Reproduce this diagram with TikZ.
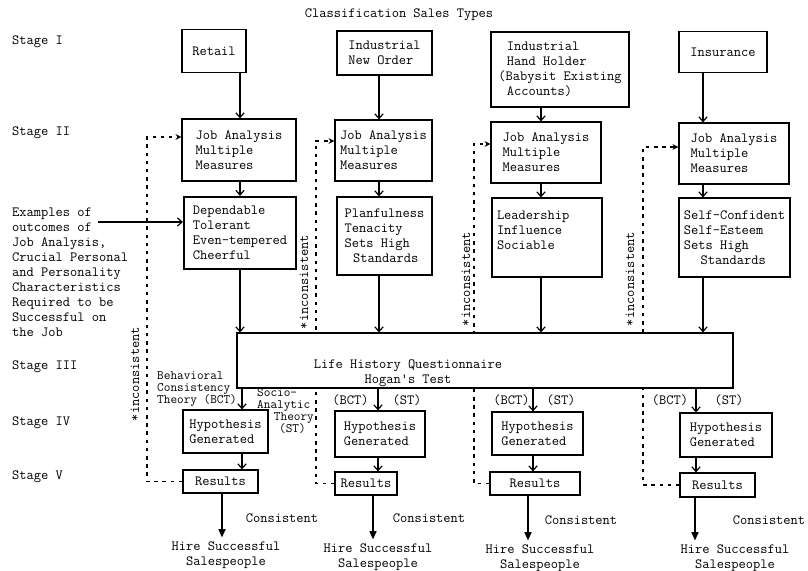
\documentclass[tikz,border=0pt]{standalone}
\usepackage{fontspec}
\usetikzlibrary{arrows.meta,backgrounds}

\newcommand\unitpx{0.03cm}

\begin{document}
\begin{tikzpicture}[x=0.03cm,y=-0.03cm,
  font=\ttfamily\fontsize{12}{12.8}\selectfont,
  box/.style 2 args={draw,line width=1pt,fill=white,align=left,inner sep=2pt,
    minimum width=#1*\unitpx,minimum height=#2*\unitpx},
  arr/.style={line width=1pt,-{Straight Barb[length=4pt,width=7pt]}},
  bigarr/.style={line width=1.2pt,-{Triangle[length=7pt,width=6pt]}},
  fback/.style={line width=1pt,dash pattern=on 3pt off 4pt,-{Stealth[length=5pt,width=5pt]}},
  lbl/.style={align=left,inner sep=0pt},
  theory/.style={align=left,inner sep=0pt,font=\ttfamily\fontsize{11}{10.5}\selectfont},
  inc/.style={rotate=90,inner sep=0pt}]
  \useasboundingbox (0,0) rectangle (808,571);

  \node (title) at (399,15) {Classification Sales Types};
  \node[lbl,anchor=west] (s1) at (12,42) {Stage I};
  \node[lbl,anchor=west] (s2) at (12,133) {Stage II};
  \node[lbl,anchor=west] (s3) at (12,367) {Stage III};
  \node[lbl,anchor=west] (s4) at (12,423) {Stage IV};
  \node[lbl,anchor=west] (s5) at (12,477) {Stage V};
  \node[lbl,anchor=west] (ex) at (12,272) {Examples of\\outcomes of\\Job Analysis,\\Crucial Personal\\and Personality\\Characteristics\\Required to be\\Successful on\\the Job};

  \node[box={64}{43}] (ret) at (214,51) {Retail};
  \node[box={95}{44}] (ind) at (384.5,53) {Industrial\\New Order};
  \node[box={138}{75}] (hand) at (560,69.5) {\hspace*{.6em}Industrial\\\hspace*{.6em}Hand Holder\\(Babysit Existing\\\hspace*{.6em}Accounts)};
  \node[box={88}{41}] (ins) at (723,52) {Insurance};

  \node[box={114}{62}] (ja1) at (239,150) {Job Analysis\\Multiple\\Measures};
  \node[box={97}{61}] (ja2) at (383.5,150.5) {Job Analysis\\Multiple\\Measures};
  \node[box={110}{61}] (ja3) at (546,152.5) {Job Analysis\\Multiple\\Measures};
  \node[box={110}{61}] (ja4) at (734,153.5) {Job Analysis\\Multiple\\Measures};

  \node[box={112}{72},line width=1.8pt] (dep) at (240,233) {Dependable\\Tolerant\\Even-tempered\\Cheerful};
  \node[box={95}{78}] (plan) at (384.5,236) {Planfulness\\Tenacity\\Sets High\\\hspace*{.6em}Standards};
  \node[box={110}{79},text width=3cm] (lead) at (547,237.5) {Leadership\\Influence\\Sociable\\~};
  \node[box={111}{79}] (self) at (734.5,237.5) {Self-Confident\\Self-Esteem\\Sets High\\\hspace*{1.2em}Standards};

  \node[box={496}{55}] (lh) at (485,360.5) {};
  \node[align=center] (lhtxt) at (408,373) {Life History Questionnaire\\Hogan's Test};

  \node[box={85}{43}] (hyp1) at (225.5,431.5) {Hypothesis\\Generated};
  \node[box={90}{46}] (hyp2) at (380,434) {Hypothesis\\Generated};
  \node[box={91}{43}] (hyp3) at (537.5,433.5) {Hypothesis\\Generated};
  \node[box={92}{44}] (hyp4) at (726,435) {Hypothesis\\Generated};

  \node[box={75}{23}] (res1) at (220.5,481.5) {Results};
  \node[box={62}{23}] (res2) at (366,483.5) {Results};
  \node[box={90}{23}] (res3) at (535,483.5) {Results};
  \node[box={75}{24}] (res4) at (717.5,485) {Results};

  \node[align=center] (hire1) at (226,555) {Hire Successful\\Salespeople};
  \node[align=center] (hire2) at (378,557) {Hire Successful\\Salespeople};
  \node[align=center] (hire3) at (540,558) {Hire Successful\\Salespeople};
  \node[align=center] (hire4) at (735,558) {Hire Successful\\Salespeople};

  \node (con1) at (282,518) {Consistent};
  \node (con2) at (429,518) {Consistent};
  \node (con3) at (581,520) {Consistent};
  \node (con4) at (769,520) {Consistent};

  \node[theory,anchor=west] (bct1) at (157,389) {Behavioral\\Consistency\\Theory (BCT)};
  \node[theory,anchor=west] (st1) at (257,411) {Socio-\\Analytic\\\hspace*{1.3em}Theory\\\hspace*{1.7em}(ST)};
  \node (bct2) at (350.5,400) {(BCT)};
  \node (st2) at (407,400) {(ST)};
  \node (bct3) at (511.5,400) {(BCT)};
  \node (st3) at (561,400) {(ST)};
  \node (bct4) at (670,400) {(BCT)};
  \node (st4) at (729,400) {(ST)};

  \node[inc] (inc1) at (135,374) {*inconsistent};
  \node[inc] (inc2) at (304,282) {*inconsistent};
  \node[inc] (inc3) at (466,279) {*inconsistent};
  \node[inc] (inc4) at (630,279) {*inconsistent};

  \coordinate (a1) at (240,0);
  \coordinate (a2) at (379,0);
  \coordinate (a3) at (541,0);
  \coordinate (a4) at (703,0);
  \coordinate (b1) at (242,0);
  \coordinate (b2) at (378,0);
  \coordinate (b3) at (533,0);
  \coordinate (b4) at (696,0);
  \coordinate (f1) at (222,0);
  \coordinate (f2) at (373,0);
  \coordinate (f3) at (528,0);
  \coordinate (f4) at (695,0);

  \draw[arr] (ret.south -| a1) -- (ja1.north -| a1);
  \draw[arr] (ind.south -| a2) -- (ja2.north -| a2);
  \draw[arr] (hand.south -| a3) -- (ja3.north -| a3);
  \draw[arr] (ins.south -| a4) -- (ja4.north -| a4);
  \draw[arr] (ja1.south -| a1) -- (dep.north -| a1);
  \draw[arr] (ja2.south -| a2) -- (plan.north -| a2);
  \draw[arr] (ja3.south -| a3) -- (lead.north -| a3);
  \draw[arr] (ja4.south -| a4) -- (self.north -| a4);
  \draw[arr] (dep.south -| a1) -- (lh.north -| a1);
  \draw[arr] (plan.south -| a2) -- (lh.north -| a2);
  \draw[arr] (lead.south -| a3) -- (lh.north -| a3);
  \draw[arr] (self.south -| a4) -- (lh.north -| a4);

  \draw[arr] (lh.south -| b1) -- (hyp1.north -| b1);
  \draw[arr] (lh.south -| b2) -- (hyp2.north -| b2);
  \draw[arr] (lh.south -| b3) -- (hyp3.north -| b3);
  \draw[arr] (lh.south -| b4) -- (hyp4.north -| b4);
  \draw[arr] (hyp1.south -| b1) -- (res1.north -| b1);
  \draw[arr] (hyp2.south -| b2) -- (res2.north -| b2);
  \draw[arr] (hyp3.south -| b3) -- (res3.north -| b3);
  \draw[arr] (hyp4.south -| b4) -- (res4.north -| b4);

  \draw[bigarr] (res1.south -| f1) -- (hire1.north -| f1);
  \draw[bigarr] (res2.south -| f2) -- (hire2.north -| f2);
  \draw[bigarr] (res3.south -| f3) -- (hire3.north -| f3);
  \draw[bigarr] (res4.south -| f4) -- (hire4.north -| f4);

  \coordinate (exa) at (98,222);
  \draw[arr] (exa) -- (exa -| dep.west);

  \coordinate (k1) at (147,137);
  \coordinate (k2) at (316,141);
  \coordinate (k3) at (474,144);
  \coordinate (k4) at (643,147);
  \begin{scope}[on background layer]
    \draw[fback] (res1.west) -| (k1) -- (k1 -| ja1.west);
    \draw[fback] (res2.west) -| (k2) -- (k2 -| ja2.west);
    \draw[fback] (res3.west) -| (k3) -- (k3 -| ja3.west);
    \draw[fback] (res4.west) -| (k4) -- (k4 -| ja4.west);
  \end{scope}
\end{tikzpicture}
\end{document}
